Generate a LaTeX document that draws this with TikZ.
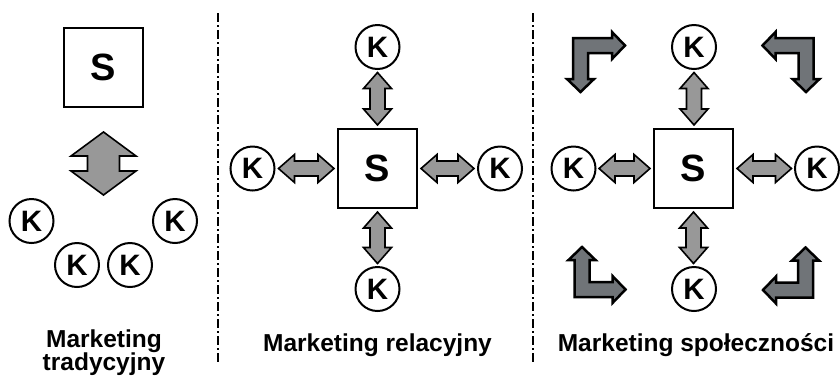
\documentclass[tikz,border=0pt]{standalone}
\usepackage{fontspec}
\setmainfont{Liberation Sans}
\usetikzlibrary{calc}
\definecolor{arrgray}{RGB}{152,152,152}
\definecolor{lgray}{RGB}{112,116,120}
\tikzset{
  knode/.style={circle,draw,line width=2pt,minimum size=44pt,inner sep=0pt,
    font=\fontsize{29.5}{29.5}\selectfont\bfseries},
  snode/.style={rectangle,draw,line width=2pt,minimum size=79pt,inner sep=0pt,
    font=\fontsize{38}{38}\selectfont\bfseries},
  lbl/.style={inner sep=0pt,font=\fontsize{24.5}{23}\selectfont\bfseries},
  dbl/.style={draw,fill=arrgray,line width=1.6pt,line join=miter},
  larr/.style={draw,fill=lgray,line width=2.5pt,line join=miter},
  divider/.style={line width=2.4pt,dash pattern=on 9pt off 3pt on 2pt off 3pt}
}
% vertical double arrow: #1 head half width, #2 shaft half width, #3 head length, #4 top point, #5 bottom point
\newcommand\vdbl[5]{%
  \draw[dbl] let \p1=#4, \p2=#5 in
    (\x1,\y1) -- (\x1+#1,\y1-#3) -- (\x1+#2,\y1-#3) -- (\x1+#2,\y2+#3) -- (\x1+#1,\y2+#3)
    -- (\x1,\y2) -- (\x1-#1,\y2+#3) -- (\x1-#2,\y2+#3) -- (\x1-#2,\y1-#3) -- (\x1-#1,\y1-#3) -- cycle;}
% horizontal double arrow: #4 left point, #5 right point
\newcommand\hdbl[5]{%
  \draw[dbl] let \p1=#4, \p2=#5 in
    (\x1,\y1) -- (\x1+#3,\y1+#1) -- (\x1+#3,\y1+#2) -- (\x2-#3,\y1+#2) -- (\x2-#3,\y1+#1)
    -- (\x2,\y1) -- (\x2-#3,\y1-#1) -- (\x2-#3,\y1-#2) -- (\x1+#3,\y1-#2) -- (\x1+#3,\y1-#1) -- cycle;}
% L-shaped arrow: outer corner (#1,#2), xscale #3, yscale #4, horizontal length #5, vertical length #6
\newcommand\Larr[6]{%
  \begin{scope}[shift={(#1,#2)},xscale=#3,yscale=#4]
    \draw[larr] (0,0) -- (#5-13,0) -- (#5-13,-6) -- (#5,7.5) -- (#5-13,21) -- (#5-13,15)
      -- (15,15) -- (15,#6-13) -- (21,#6-13) -- (7.5,#6) -- (-6,#6-13) -- (0,#6-13) -- cycle;
  \end{scope}}
\begin{document}
\begin{tikzpicture}[x=1pt,y=-1pt]
\useasboundingbox (0,0) rectangle (840,376);
% dividers
\draw[divider] (218,13) -- (218,364);
\draw[divider] (533,13) -- (533,364);

% ---------- Panel 1 ----------
\node[snode] (s1) at (103.5,67.5) {S};
\node[knode] (k1a) at (31.5,221) {K};
\node[knode] (k1b) at (175,221) {K};
\node[knode] (k1c) at (77,265) {K};
\node[knode] (k1d) at (130,265) {K};
\coordinate (kgroup) at (103.5,195);
\vdbl{32.5pt}{16pt}{24pt}{($(s1.south)+(0,24)$)}{(kgroup)}
\node[lbl,align=center,anchor=north] (l1) at (104,330) {Marketing\\tradycyjny};

% ---------- Panel 2 ----------
\node[snode] (s2) at (377.5,168.5) {S};
\node[knode] (k2t) at (377.5,47) {K};
\node[knode] (k2b) at (377.5,289) {K};
\node[knode] (k2l) at (252.5,168.5) {K};
\node[knode] (k2r) at (500,168.5) {K};
\vdbl{14pt}{7.5pt}{16pt}{($(k2t.south)+(0,2.5)$)}{($(s2.north)+(0,-3)$)}
\vdbl{14pt}{7.5pt}{16pt}{($(s2.south)+(0,3)$)}{($(k2b.north)+(0,-2.5)$)}
\hdbl{14pt}{7.5pt}{16pt}{($(k2l.east)+(3,0)$)}{($(s2.west)+(-3,0)$)}
\hdbl{14pt}{7.5pt}{16pt}{($(s2.east)+(3,0)$)}{($(k2r.west)+(-3,0)$)}
\node[lbl,anchor=base] (l2) at (377.5,351) {Marketing relacyjny};

% ---------- Panel 3 ----------
\node[snode] (s3) at (693.5,168.5) {S};
\node[knode] (k3t) at (694,47) {K};
\node[knode] (k3b) at (694,289) {K};
\node[knode] (k3l) at (573.5,168.5) {K};
\node[knode] (k3r) at (817,168.5) {K};
\vdbl{14pt}{7.5pt}{16pt}{($(k3t.south)+(0,2.5)$)}{($(s3.north)+(0,-3)$)}
\vdbl{14pt}{7.5pt}{16pt}{($(s3.south)+(0,3)$)}{($(k3b.north)+(0,-2.5)$)}
\hdbl{14pt}{7.5pt}{16pt}{($(k3l.east)+(2.5,0)$)}{($(s3.west)+(-3,0)$)}
\hdbl{14pt}{7.5pt}{16pt}{($(s3.east)+(3,0)$)}{($(k3r.west)+(-2.5,0)$)}
\Larr{573}{38}{1}{1}{52}{54}
\Larr{813.5}{38}{-1}{1}{51}{54}
\Larr{574.5}{297}{1}{-1}{51}{50}
\Larr{813}{297.5}{-1}{-1}{50}{50}
\node[lbl,anchor=base] (l3) at (696,351) {Marketing społeczności};
\end{tikzpicture}
\end{document}
